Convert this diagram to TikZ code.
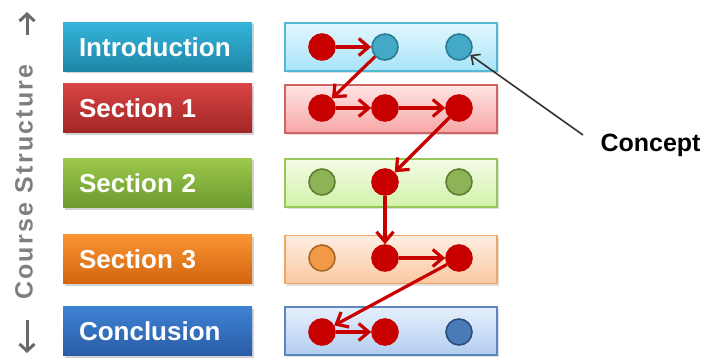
\documentclass[tikz,border=0pt]{standalone}
\usepackage{fontspec}
\setmainfont{Liberation Sans}
\usetikzlibrary{arrows.meta,shadows}

% section colours: strong (label boxes) and pale (concept strips)
\definecolor{introTop}{HTML}{34B4DA}\definecolor{introBot}{HTML}{1E86A6}
\definecolor{secATop}{HTML}{D84444}\definecolor{secABot}{HTML}{A22626}
\definecolor{secBTop}{HTML}{9CC84C}\definecolor{secBBot}{HTML}{6C9A2E}
\definecolor{secCTop}{HTML}{FA9534}\definecolor{secCBot}{HTML}{D2640E}
\definecolor{conclTop}{HTML}{3E82D4}\definecolor{conclBot}{HTML}{2A5CA6}

\definecolor{introPaleTop}{HTML}{E2F7FE}\definecolor{introPaleBot}{HTML}{A8E4F8}\definecolor{introEdge}{HTML}{55B8D4}
\definecolor{secAPaleTop}{HTML}{FFE4E4}\definecolor{secAPaleBot}{HTML}{F7A6A6}\definecolor{secAEdge}{HTML}{D06464}
\definecolor{secBPaleTop}{HTML}{F4FCE6}\definecolor{secBPaleBot}{HTML}{D2F2A8}\definecolor{secBEdge}{HTML}{98C658}
\definecolor{secCPaleTop}{HTML}{FFEEE2}\definecolor{secCPaleBot}{HTML}{F9C8A0}\definecolor{secCEdge}{HTML}{F2A462}
\definecolor{conclPaleTop}{HTML}{E6F0FC}\definecolor{conclPaleBot}{HTML}{B2CCEE}\definecolor{conclEdge}{HTML}{5C86C2}

\definecolor{visited}{HTML}{C80000}
\definecolor{introDot}{HTML}{44A9C6}\definecolor{introDotEdge}{HTML}{2A7C96}
\definecolor{secBDot}{HTML}{8DB356}\definecolor{secBDotEdge}{HTML}{5E8032}
\definecolor{secCDot}{HTML}{F29A48}\definecolor{secCDotEdge}{HTML}{A8682A}
\definecolor{conclDot}{HTML}{4A7BB8}\definecolor{conclDotEdge}{HTML}{284E80}
\definecolor{axisgray}{HTML}{7F7F7F}
\definecolor{axisdark}{HTML}{6A6A6A}

\tikzset{
  labelbox/.style={rectangle, minimum height=49pt, text width=157pt, inner xsep=16pt,
    align=left, text=white, font=\fontsize{26}{29}\selectfont\bfseries,
    drop shadow={shadow xshift=1.5pt, shadow yshift=-2pt, opacity=0.35}},
  strip/.style={rectangle, minimum width=212pt, minimum height=48pt, line width=1.2pt,
    drop shadow={shadow xshift=1.5pt, shadow yshift=-2pt, opacity=0.25}},
  dot/.style={circle, minimum size=26pt, inner sep=0pt, line width=1.6pt},
  seen/.style={dot, fill=visited, draw=visited},
  routearrow/.style={draw=visited, line width=3.2pt,
    -{Straight Barb[length=10pt, width=17pt, line width=3.2pt]}},
  pointerarrow/.style={draw=black!80, line width=1.6pt,
    -{Straight Barb[length=7pt, width=13pt, line width=1.6pt]}},
  axisarrow/.style={draw=axisdark, line width=3pt,
    -{Straight Barb[length=7pt, width=15pt, line width=3pt]}}
}

\begin{document}
\begin{tikzpicture}[x=1pt, y=-1pt]
\useasboundingbox (0,0) rectangle (706,358);

% section labels
\node[labelbox, top color=introTop, bottom color=introBot] (lintro) at (157.5,47) {Introduction};
\node[labelbox, top color=secATop, bottom color=secABot] (lsecA) at (157.5,108.5) {Section 1};
\node[labelbox, top color=secBTop, bottom color=secBBot] (lsecB) at (157.5,183) {Section 2};
\node[labelbox, top color=secCTop, bottom color=secCBot] (lsecC) at (157.5,259) {Section 3};
\node[labelbox, top color=conclTop, bottom color=conclBot] (lconcl) at (157.5,331) {Conclusion};

% concept strips
\node[strip, draw=introEdge, top color=introPaleTop, bottom color=introPaleBot] (sintro) at (391,47) {};
\node[strip, draw=secAEdge, top color=secAPaleTop, bottom color=secAPaleBot] (ssecA) at (391,109) {};
\node[strip, draw=secBEdge, top color=secBPaleTop, bottom color=secBPaleBot] (ssecB) at (391,183) {};
\node[strip, draw=secCEdge, top color=secCPaleTop, bottom color=secCPaleBot] (ssecC) at (391,259.5) {};
\node[strip, draw=conclEdge, top color=conclPaleTop, bottom color=conclPaleBot] (sconcl) at (391,331) {};

% concepts
\node[seen] (c11) at (322,47) {};
\node[dot, fill=introDot, draw=introDotEdge] (c12) at (385,47) {};
\node[dot, fill=introDot, draw=introDotEdge] (c13) at (459,47) {};

\node[seen] (c21) at (322,108) {};
\node[seen] (c22) at (385,108) {};
\node[seen] (c23) at (459,108) {};

\node[dot, fill=secBDot, draw=secBDotEdge] (c31) at (322,182) {};
\node[seen] (c32) at (385,182) {};
\node[dot, fill=secBDot, draw=secBDotEdge] (c33) at (459,182) {};

\node[dot, fill=secCDot, draw=secCDotEdge] (c41) at (322,258) {};
\node[seen] (c42) at (385,258) {};
\node[seen] (c43) at (459,258) {};

\node[seen] (c51) at (322,332) {};
\node[seen] (c52) at (385,332) {};
\node[dot, fill=conclDot, draw=conclDotEdge] (c53) at (459,332) {};

% learning path
\draw[routearrow] (c11) -- (c12);
\draw[routearrow] (c12) -- (c21);
\draw[routearrow] (c21) -- (c22);
\draw[routearrow] (c22) -- (c23);
\draw[routearrow] (c23) -- (c32);
\draw[routearrow] (c32) -- (c42);
\draw[routearrow] (c42) -- (c43);
\draw[routearrow] (c43) -- (c51);
\draw[routearrow] (c51) -- (c52);

% concept callout
\node[font=\fontsize{25}{28}\selectfont\bfseries, inner sep=0pt] (concept) at (650.5,145) {Concept};
\coordinate (ctail) at (583,135);
\draw[pointerarrow] (ctail) -- (c13);

% vertical axis
\node[rotate=90, text=axisgray, inner sep=0pt,
  font=\fontsize{25}{28}\selectfont\bfseries\addfontfeatures{LetterSpace=9}] (axislabel) at (24,182) {Course Structure};
\coordinate (upfrom) at (27,35);
\coordinate (upto) at (27,12);
\coordinate (downfrom) at (27,320);
\coordinate (downto) at (27,353);
\draw[axisarrow] (upfrom) -- (upto);
\draw[axisarrow] (downfrom) -- (downto);
\end{tikzpicture}
\end{document}
